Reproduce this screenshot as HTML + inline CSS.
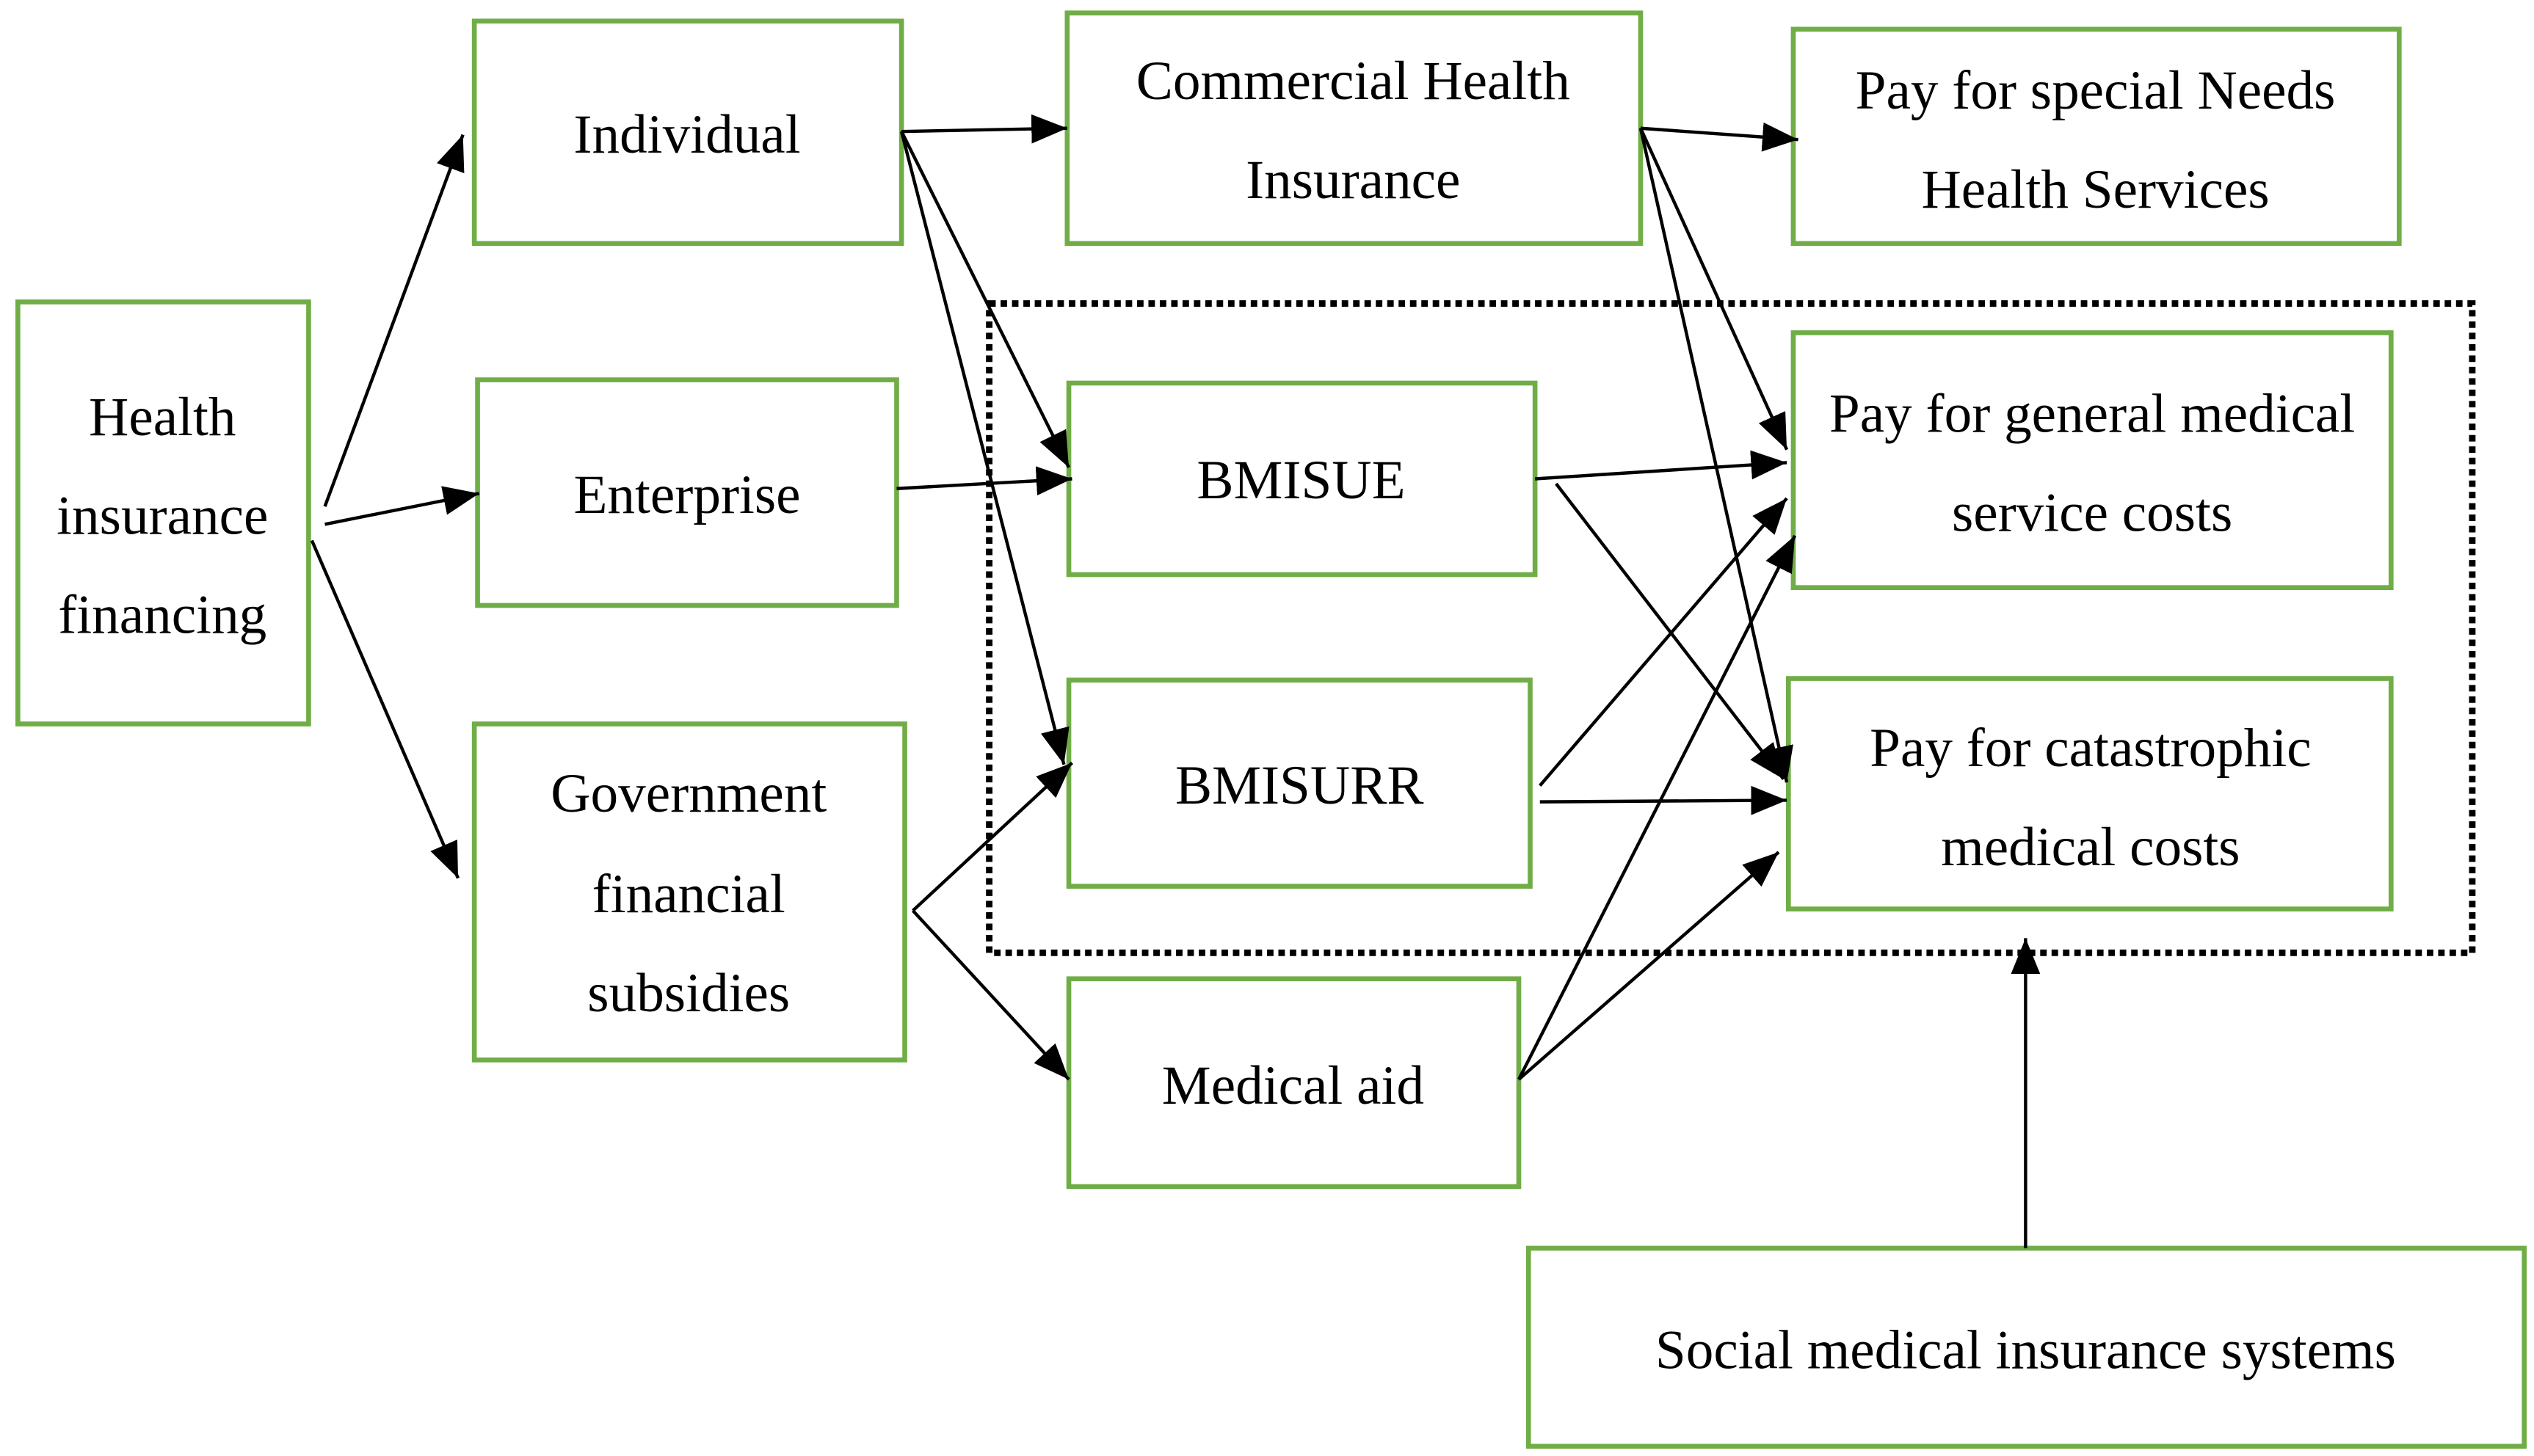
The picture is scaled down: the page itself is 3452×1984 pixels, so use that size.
<!DOCTYPE html>
<html><head><meta charset="utf-8"><style>
html,body{margin:0;padding:0;background:#fff;}
svg{display:block;}
text{font-family:"Liberation Serif",serif;font-size:34px;fill:#000;text-anchor:middle;}
</style></head><body>
<svg width="3452" height="1984" viewBox="0 0 1560 897" preserveAspectRatio="none" xmlns="http://www.w3.org/2000/svg">
<defs>
<marker id="a" markerUnits="userSpaceOnUse" markerWidth="24" markerHeight="18" refX="22" refY="9" orient="auto">
<path d="M0,0 L22,9 L0,18 Z" fill="#000"/>
</marker>
</defs>
<g fill="none" stroke="#70AD47" stroke-width="3">
<rect x="11" y="186" width="179" height="260"/>
<rect x="292" y="13" width="263" height="137"/>
<rect x="294" y="234" width="258" height="139"/>
<rect x="292" y="446" width="265" height="207"/>
<rect x="657" y="8" width="353" height="142"/>
<rect x="658" y="236" width="287" height="118"/>
<rect x="658" y="419" width="284" height="127"/>
<rect x="658" y="603" width="277" height="128"/>
<rect x="1104" y="18" width="373" height="132"/>
<rect x="1104" y="205" width="368" height="157"/>
<rect x="1101" y="418" width="371" height="142"/>
<rect x="941" y="769" width="613" height="122"/>
</g>
<rect x="609" y="187" width="913" height="400" fill="none" stroke="#000" stroke-width="4" stroke-dasharray="4 3"/>
<g stroke="#000" stroke-width="2" fill="none" marker-end="url(#a)">
<line x1="200" y1="312" x2="285" y2="83"/>
<line x1="200" y1="323" x2="295" y2="304"/>
<line x1="192" y1="333" x2="282" y2="541"/>
<line x1="555" y1="81" x2="657" y2="79"/>
<line x1="555" y1="81" x2="658" y2="288"/>
<line x1="555" y1="81" x2="655" y2="471"/>
<line x1="552" y1="301" x2="660" y2="295"/>
<line x1="562" y1="561" x2="660" y2="470"/>
<line x1="562" y1="561" x2="658" y2="665"/>
<line x1="1010" y1="79" x2="1107" y2="86"/>
<line x1="1010" y1="79" x2="1100" y2="277"/>
<line x1="1010" y1="79" x2="1100" y2="482"/>
<line x1="945" y1="295" x2="1100" y2="285"/>
<line x1="958" y1="298" x2="1098" y2="480"/>
<line x1="948" y1="484" x2="1100" y2="307"/>
<line x1="948" y1="494" x2="1100" y2="493"/>
<line x1="935" y1="665" x2="1105" y2="330"/>
<line x1="935" y1="665" x2="1095" y2="525"/>
<line x1="1247" y1="769" x2="1247" y2="578"/>
</g>
<text x="100" y="268">Health</text>
<text x="100" y="329">insurance</text>
<text x="100" y="390">financing</text>
<text x="423" y="94">Individual</text>
<text x="423" y="316">Enterprise</text>
<text x="424" y="500">Government</text>
<text x="424" y="562">financial</text>
<text x="424" y="623">subsidies</text>
<text x="833" y="61">Commercial Health</text>
<text x="833" y="122">Insurance</text>
<text x="801" y="307">BMISUE</text>
<text x="800" y="495">BMISURR</text>
<text x="796" y="680">Medical aid</text>
<text x="1290" y="67">Pay for special Needs</text>
<text x="1290" y="128">Health Services</text>
<text x="1288" y="266">Pay for general medical</text>
<text x="1288" y="327">service costs</text>
<text x="1287" y="472">Pay for catastrophic</text>
<text x="1287" y="533">medical costs</text>
<text x="1247" y="843">Social medical insurance systems</text>
</svg>
</body></html>
